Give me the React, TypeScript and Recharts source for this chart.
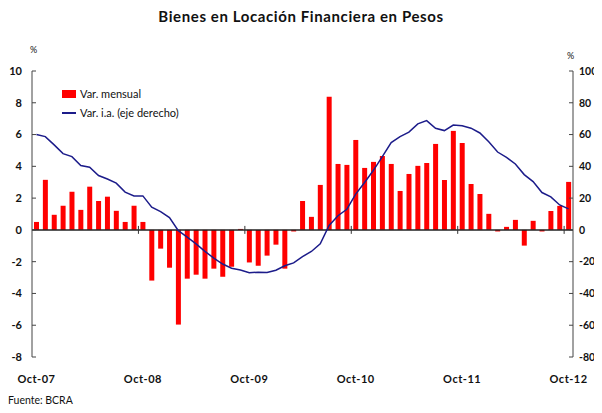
import React from 'react'
import {
  ComposedChart,
  Bar,
  Line,
  XAxis,
  YAxis,
  ReferenceLine,
} from 'recharts'

// Oct-07 .. Oct-12, monthly
const monthNames = ['Oct', 'Nov', 'Dic', 'Ene', 'Feb', 'Mar', 'Abr', 'May', 'Jun', 'Jul', 'Ago', 'Sep']
const months: string[] = []
for (let i = 0; i < 61; i++) {
  const yy = 7 + Math.floor((i + 9) / 12)
  months.push(`${monthNames[i % 12]}-${String(yy).padStart(2, '0')}`)
}

const xTicks = ['Oct-07', 'Oct-08', 'Oct-09', 'Oct-10', 'Oct-11', 'Oct-12']

// Var. mensual (%), eje izquierdo
const varMensual = [
  0.5, 3.15, 0.95, 1.52, 2.4, 1.26, 2.72, 1.82, 2.09, 1.2, 0.5, 1.52,
  0.5, -3.19, -1.18, -2.38, -5.96, -3.07, -2.82, -3.07, -2.44, -2.95, -2.32, 0.06,
  -2.05, -2.25, -1.62, -0.93, -2.44, -0.1, 1.82, 0.82, 2.83, 8.38, 4.15, 4.09,
  5.66, 3.9, 4.28, 4.65, 4.15, 2.45, 3.52, 4.03, 4.21, 5.41, 3.14, 6.23,
  5.47, 2.89, 2.26, 1.01, -0.1, 0.19, 0.63, -0.99, 0.57, -0.1, 1.19, 1.51,
  3.02,
]

// Var. i.a. (%), eje derecho
const varIA = [
  60, 58.7, 53.5, 48, 46.1, 40.5, 39.4, 34.2, 32, 29.4, 23.8, 21.4,
  21.4, 14.3, 11.5, 7.7, -0.5, -4.6, -8.8, -13.5, -17.8, -21.5, -24.1, -25.2,
  -27, -26.6, -26.8, -25.4, -22.6, -20.8, -16.8, -13.6, -8.8, 2.8, 8.9, 13,
  22.5, 29.8, 37.5, 46.1, 55, 58.7, 61.5, 66.7, 68.8, 64, 62.5, 66,
  65.5, 64, 61, 55.5, 49, 45.6, 41.5, 34.8, 30.4, 23.5, 20.8, 15.7,
  13.2,
]

const leftTicks = [-8, -6, -4, -2, 0, 2, 4, 6, 8, 10]
const rightTicks = [-80, -60, -40, -20, 0, 20, 40, 60, 80, 100]

const data = months.map((mes, i) => ({ mes, mensual: varMensual[i], ia: varIA[i] }))

const FONT = 'Lato, "DejaVu Sans", sans-serif'
const RED = '#ff0000'
const NAVY = '#1c1c8a'
const axisTick = { fill: '#111', fontSize: 11, fontWeight: 700, fontFamily: FONT }

function LegendBox() {
  return (
    <div
      style={{
        position: 'absolute',
        top: 84,
        left: 62,
        fontFamily: FONT,
        fontSize: 11,
        color: '#111',
        lineHeight: '19px',
      }}
    >
      <div style={{ display: 'flex', alignItems: 'center' }}>
        <span style={{ display: 'inline-block', width: 14, height: 8, background: RED, marginRight: 4 }} />
        Var. mensual
      </div>
      <div style={{ display: 'flex', alignItems: 'center' }}>
        <span style={{ display: 'inline-block', width: 14, height: 2, background: NAVY, marginRight: 4 }} />
        Var. i.a. (eje derecho)
      </div>
    </div>
  )
}

export default function App() {
  return (
    <div style={{ position: 'relative', width: 602, height: 413, margin: -8, background: '#fff', overflow: 'hidden' }}>
      <ComposedChart
        width={602}
        height={413}
        data={data}
        margin={{ top: 71, right: 0, bottom: 0, left: 0 }}
        barCategoryGap={0}
      >
        <XAxis
          dataKey="mes"
          ticks={xTicks}
          interval={0}
          height={56}
          axisLine={false}
          tickLine={false}
          tickSize={0}
          tickMargin={18}
          tick={{ ...axisTick, letterSpacing: 0.5 }}
        />
        <YAxis
          yAxisId="left"
          orientation="left"
          width={32}
          domain={[-8, 10]}
          ticks={leftTicks}
          interval={0}
          allowDataOverflow
          axisLine={{ stroke: '#444' }}
          tickLine={{ stroke: '#444' }}
          tickSize={-4}
          tickMargin={14}
          tick={axisTick}
        />
        <YAxis
          yAxisId="right"
          orientation="right"
          width={29}
          domain={[-80, 100]}
          ticks={rightTicks}
          interval={0}
          allowDataOverflow
          axisLine={{ stroke: '#444' }}
          tickLine={{ stroke: '#444' }}
          tickSize={-4}
          tickMargin={10}
          tick={{ ...axisTick, fontSize: 10.5, textAnchor: 'start' }}
        />
        <Bar yAxisId="left" dataKey="mensual" fill={RED} barSize={5} isAnimationActive={false} />
        <ReferenceLine yAxisId="left" y={0} stroke="#222" strokeWidth={1.5} />
        {xTicks.slice(1).map((m) => (
          <ReferenceLine
            key={m}
            yAxisId="left"
            position="start"
            segment={[
              { x: m, y: -0.25 },
              { x: m, y: 0.25 },
            ]}
            stroke="#333"
            strokeWidth={1}
          />
        ))}
        <Line
          yAxisId="right"
          dataKey="ia"
          type="linear"
          stroke={NAVY}
          strokeWidth={1.5}
          dot={false}
          isAnimationActive={false}
        />
      </ComposedChart>

      <div
        style={{
          position: 'absolute',
          top: 7,
          left: 0,
          width: 602,
          textAlign: 'center',
          fontFamily: FONT,
          fontWeight: 700,
          fontSize: 15,
          letterSpacing: 0.6,
          color: '#111',
        }}
      >
        Bienes en Locación Financiera en Pesos
      </div>
      <div style={{ position: 'absolute', top: 44, left: 30, fontFamily: FONT, fontSize: 9, color: '#111' }}>%</div>
      <div style={{ position: 'absolute', top: 50, left: 567, fontFamily: FONT, fontSize: 9, color: '#111' }}>%</div>
      <LegendBox />
      <div style={{ position: 'absolute', top: 394, left: 8, fontFamily: FONT, fontSize: 10.5, color: '#111' }}>
        Fuente: BCRA
      </div>
    </div>
  )
}
